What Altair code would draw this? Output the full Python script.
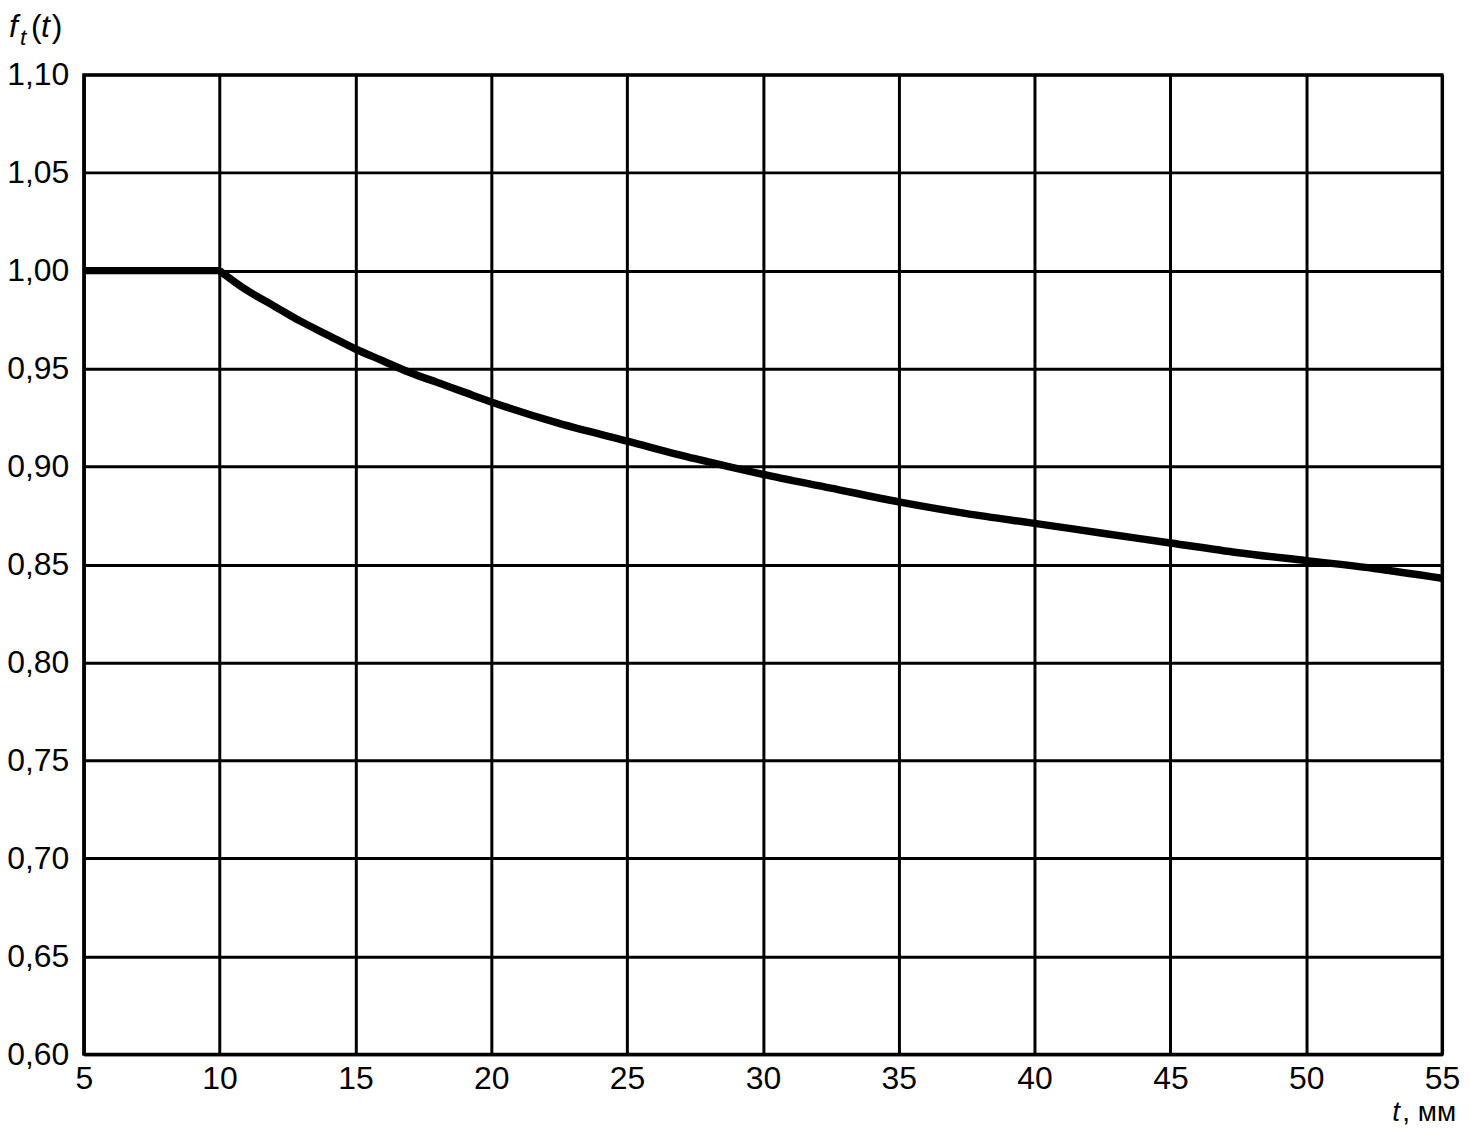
import altair as alt
import pandas as pd

t_vals = [5, 10, 10, 11, 12, 13, 14, 15, 16, 17, 18, 19, 20, 22.5, 25, 27.5, 30, 32.5, 35, 37.5, 40, 42.5, 45, 47.5, 50, 52.5, 55]
f_vals = [1.0, 1.0, 1.0, 0.990, 0.982, 0.974, 0.967, 0.960, 0.954, 0.948, 0.943, 0.938, 0.933, 0.922, 0.913, 0.904, 0.896, 0.889, 0.882, 0.876, 0.871, 0.866, 0.861, 0.856, 0.852, 0.848, 0.843]
seg_vals = ["flat", "flat"] + ["curve"] * 25
x_ticks = [5, 10, 15, 20, 25, 30, 35, 40, 45, 50, 55]
y_ticks = [0.60, 0.65, 0.70, 0.75, 0.80, 0.85, 0.90, 0.95, 1.00, 1.05, 1.10]

df = pd.DataFrame({"t": t_vals, "f": f_vals, "seg": seg_vals})
FONT = "Liberation Sans"

line = alt.Chart(df).mark_line(color="black", strokeWidth=7.5, interpolate="monotone", strokeCap="butt").encode(
    x=alt.X("t:Q", scale=alt.Scale(domain=[5, 55], nice=False, zero=False),
            axis=alt.Axis(values=x_ticks, title=None, grid=True, gridColor="black", gridWidth=3,
                          gridOpacity=1, domain=True, domainColor="black", domainWidth=3,
                          ticks=False, labelFont=FONT, labelFontSize=32, labelColor="black",
                          labelPadding=9, labelFlush=False)),
    y=alt.Y("f:Q", scale=alt.Scale(domain=[0.60, 1.10], nice=False, zero=False),
            axis=alt.Axis(values=y_ticks, title=None, grid=True, gridColor="black", gridWidth=3,
                          gridOpacity=1, domain=True, domainColor="black", domainWidth=3,
                          ticks=False, labelFont=FONT, labelFontSize=32, labelColor="black",
                          labelPadding=15, labelFlush=False,
                          labelExpr="replace(format(datum.value, '.2f'), '.', ',')")),
    detail="seg:N",
)

# right and top frame
frame = alt.Chart(pd.DataFrame({"a": [0]})).mark_rect(fill=None, stroke="black", strokeWidth=3).encode(
    x=alt.value(0), x2=alt.value(1363), y=alt.value(0), y2=alt.value(983)
)

ann = pd.DataFrame({"a": [0]})
def txt(s, x, y, size=30, style="italic", align="left"):
    return alt.Chart(ann).mark_text(font=FONT, fontSize=size, fontStyle=style, align=align,
                                    baseline="alphabetic", color="black").encode(
        x=alt.value(x), y=alt.value(y), text=alt.value(s))

title_parts = [
    txt("f", -75, -38, 32, "italic"),
    txt("t", -64, -30, 23, "italic"),
    txt("(", -53, -38, 32, "normal"),
    txt("t", -43, -38, 32, "italic"),
    txt(")", -32, -38, 32, "normal"),
    txt("t", 1313, 1050, 28, "italic"),
    txt(", мм", 1323, 1050, 28, "normal"),
]

chart = alt.layer(line, frame, *title_parts).properties(
    width=1363, height=983,
    autosize=alt.AutoSizeParams(type="none"),
    padding={"left": 76, "top": 65, "right": 20, "bottom": 80},
).configure_view(stroke=None).configure(background="white")

chart.save("out.html", embed_options={"renderer": "svg", "actions": False})
